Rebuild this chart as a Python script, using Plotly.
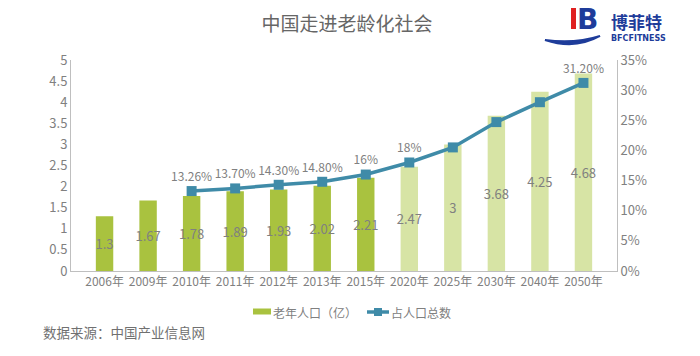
import plotly.graph_objects as go

categories = ["2006年", "2009年", "2010年", "2011年", "2012年", "2013年", "2015年",
              "2020年", "2025年", "2030年", "2040年", "2050年"]
elderly_pop = [1.3, 1.67, 1.78, 1.89, 1.93, 2.02, 2.21, 2.47, 3, 3.68, 4.25, 4.68]
share_pct = [None, None, 13.26, 13.70, 14.30, 14.80, 16, 18, 20.5, 24.7, 28.0, 31.2]
share_labels = ["", "", "13.26%", "13.70%", "14.30%", "14.80%", "16%", "18%", "", "", "", "31.20%"]
bar_labels = ["1.3", "1.67", "1.78", "1.89", "1.93", "2.02", "2.21", "2.47", "3", "3.68", "4.25", "4.68"]
legend_names = ["老年人口（亿）", "占人口总数"]

FONT = "Noto Sans CJK SC"
GRAY = "#808080"
BAR_DARK = "#A9C23F"
BAR_LIGHT = "#D7E4A5"
LINE_C = "#3F8BA8"
bar_colors = [BAR_DARK] * 7 + [BAR_LIGHT] * 5

# plot-area geometry in pixels (for placing decorations)
L, R, T, B = 71, 83, 60, 85
W, H = 700 - L - R, 356 - T - B


def px(x):
    return (x - L) / W


def py(y):
    return (356 - B - y) / H


fig = go.Figure()
fig.add_trace(go.Bar(
    x=categories, y=elderly_pop, name=legend_names[0],
    marker=dict(color=bar_colors, line=dict(width=0)),
    text=bar_labels, textposition="inside", insidetextanchor="middle",
    textfont=dict(color=GRAY, size=13, family=FONT),
    textangle=0, cliponaxis=False, showlegend=False,
))
fig.add_trace(go.Scatter(
    x=categories, y=share_pct, name=legend_names[1], yaxis="y2",
    mode="lines+markers+text",
    line=dict(color=LINE_C, width=3.5),
    marker=dict(symbol="square", size=10, color=LINE_C),
    text=share_labels, textposition="top center",
    textfont=dict(color=GRAY, size=12, family=FONT),
    cliponaxis=False, showlegend=False,
))

fig.update_layout(
    width=700, height=356,
    margin=dict(l=L, r=R, t=T, b=B, autoexpand=False),
    paper_bgcolor="white", plot_bgcolor="white",
    font=dict(family=FONT, color=GRAY),
    bargap=0.6,
    uniformtext=dict(minsize=13, mode="show"),
    xaxis=dict(showline=True, linecolor="#BFBFBF", linewidth=1, ticks="",
               tickfont=dict(size=12, color=GRAY), showgrid=False),
    yaxis=dict(range=[0, 5], dtick=0.5, showline=True, linecolor="#BFBFBF",
               linewidth=1, showgrid=False, zeroline=False, ticks="",
               tickfont=dict(size=13, color=GRAY), tickformat="~g"),
    yaxis2=dict(range=[0, 35], dtick=5, overlaying="y", side="right",
                showline=True, linecolor="#BFBFBF", linewidth=1, showgrid=False,
                zeroline=False, ticks="", ticksuffix="%",
                tickfont=dict(size=13, color=GRAY)),
    title=dict(text="中国走进老龄化社会", xref="container", x=347 / 700, xanchor="center",
               yref="container", y=1 - 24 / 356, yanchor="middle",
               font=dict(size=19, color="#666666", family=FONT)),
)

# manual legend
fig.add_shape(type="rect", xref="paper", yref="paper", x0=px(253), x1=px(271),
              y0=py(314.5), y1=py(308.5), fillcolor=BAR_DARK, line=dict(width=0))
fig.add_annotation(text=legend_names[0], xref="paper", yref="paper", x=px(271), y=py(312),
                   xanchor="left", yanchor="middle", showarrow=False,
                   font=dict(size=12, color=GRAY, family=FONT))
fig.add_shape(type="line", xref="paper", yref="paper", x0=px(367), x1=px(389),
              y0=py(312), y1=py(312), line=dict(color=LINE_C, width=3.5))
fig.add_shape(type="rect", xref="paper", yref="paper", x0=px(374), x1=px(382),
              y0=py(316), y1=py(308), fillcolor=LINE_C, line=dict(width=0))
fig.add_annotation(text=legend_names[1], xref="paper", yref="paper", x=px(389), y=py(312),
                   xanchor="left", yanchor="middle", showarrow=False,
                   font=dict(size=12, color=GRAY, family=FONT))

# source note
fig.add_annotation(text="数据来源：中国产业信息网", xref="paper", yref="paper",
                   x=px(41), y=py(332), xanchor="left", yanchor="middle", showarrow=False,
                   font=dict(size=13.5, color="#707070", family=FONT))

# logo (approximation)
fig.add_shape(type="rect", xref="paper", yref="paper", x0=px(571), x1=px(576), y0=py(29), y1=py(8),
              fillcolor="#E02020", line=dict(width=0), layer="above")
fig.add_shape(type="path", xref="paper", yref="paper",
              path=f"M {px(545)},{py(40)} Q {px(575)},{py(50)} {px(600)},{py(36)} "
                   f"Q {px(575)},{py(44)} {px(545)},{py(40)} Z",
              fillcolor="#1E3C9A", line=dict(color="#1E3C9A", width=2), layer="above")
fig.add_annotation(text="<b>B</b>", xref="paper", yref="paper", x=px(575), y=py(19),
                   xanchor="left", yanchor="middle", showarrow=False,
                   font=dict(size=28, color="#1E3C9A", family="DejaVu Sans"))
fig.add_annotation(text="<b>博菲特</b>", xref="paper", yref="paper", x=px(609), y=py(22),
                   xanchor="left", yanchor="middle", showarrow=False,
                   font=dict(size=17, color="#1E3C9A", family=FONT))
fig.add_annotation(text="<b>BFCFITNESS</b>", xref="paper", yref="paper", x=px(609), y=py(39),
                   xanchor="left", yanchor="middle", showarrow=False,
                   font=dict(size=8, color="#1E3C9A", family="DejaVu Sans"))

fig.write_html("out.html", config={"displayModeBar": False},
               post_script="document.body.style.margin='0';")
